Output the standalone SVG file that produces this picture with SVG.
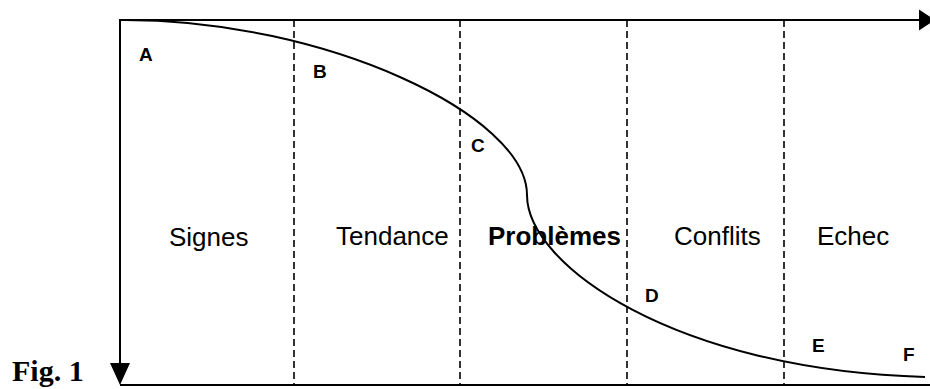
<svg xmlns="http://www.w3.org/2000/svg" width="930" height="389" viewBox="0 0 930 389">
<style>
.axis{stroke:#000;stroke-width:2;fill:none}
.dash{stroke:#000;stroke-width:1.6;stroke-dasharray:7,4;fill:none}
.curve{stroke:#000;stroke-width:2;fill:none}
.lbl{font-family:"Liberation Sans",Arial,sans-serif;font-size:26px;fill:#000}
.pt{font-family:"Liberation Sans",Arial,sans-serif;font-size:19px;font-weight:bold;fill:#000}
.fig{font-family:"Liberation Serif","Times New Roman",serif;font-size:30px;font-weight:bold;fill:#000}
</style>
<rect width="930" height="389" fill="#fff"/>
<g id="connectors">
<line class="axis" x1="120" y1="20" x2="920" y2="20"/>
<polygon points="919,9.5 935,20 919,30.5" fill="#000"/>
<line class="axis" x1="120" y1="19" x2="120" y2="365"/>
<polygon points="110,363 130,363 120,385" fill="#000"/>
<line class="axis" x1="120" y1="385" x2="930" y2="385"/>
<line class="dash" x1="294" y1="20" x2="294" y2="385"/>
<line class="dash" x1="460" y1="20" x2="460" y2="385"/>
<line class="dash" x1="627" y1="20" x2="627" y2="385"/>
<line class="dash" x1="784" y1="20" x2="784" y2="385"/>
<path id="curve" class="curve" d="M125,20 C325,20 527,115 527,195 C527,265 675,370 925,377"/>
</g>
<g id="signes"><text class="lbl" x="169" y="246">Signes</text></g>
<g id="tendance"><text class="lbl" x="336" y="245">Tendance</text></g>
<g id="problemes"><text class="lbl" x="488" y="245" font-weight="bold">Problèmes</text></g>
<g id="conflits"><text class="lbl" x="674" y="245">Conflits</text></g>
<g id="echec"><text class="lbl" x="817" y="245">Echec</text></g>
<g id="A"><text class="pt" x="139" y="61">A</text></g>
<g id="B"><text class="pt" x="313" y="78">B</text></g>
<g id="C"><text class="pt" x="471" y="152">C</text></g>
<g id="D"><text class="pt" x="645" y="302">D</text></g>
<g id="E"><text class="pt" x="812" y="352">E</text></g>
<g id="F"><text class="pt" x="903" y="361">F</text></g>
<g id="fig"><text class="fig" x="12" y="381">Fig. 1</text></g>
</svg>
